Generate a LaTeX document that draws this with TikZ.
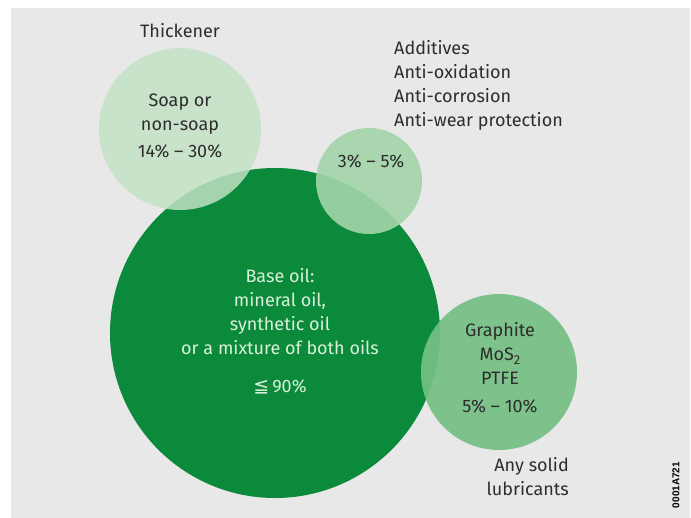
\documentclass[tikz,border=0pt]{standalone}
\usepackage{fontspec}
\setmainfont{Fira Sans}
\newfontfamily\symfont{DejaVu Sans}
\newfontfamily\codefont{Liberation Sans}
\definecolor{panelgray}{RGB}{232,232,232}
\definecolor{oilgreen}{RGB}{10,138,58}
\definecolor{thickgreen}{RGB}{194,227,196}
\definecolor{addgreen}{RGB}{163,213,169}
\definecolor{solidgreen}{RGB}{117,192,133}
\definecolor{darktext}{RGB}{45,45,45}
\definecolor{lighttext}{RGB}{218,240,218}
\newcommand{\lowtwo}{\raisebox{-3.5pt}{\fontsize{13}{13}\selectfont 2}}
\begin{document}
\begin{tikzpicture}[x=1pt,y=-1pt,
  blob/.style={circle,inner sep=0pt,minimum size=#1},
  label/.style={font=\fontsize{18}{24}\selectfont,text=darktext,inner sep=0pt,align=center},
  oiltext/.style={label,text=lighttext}]
  % panel
  \useasboundingbox (0,0) rectangle (691,518);
  \fill[white] (0,0) rectangle (691,518);
  \fill[panelgray] (11,8) rectangle (690,518);
  % circles
  \node[blob=330pt,fill=oilgreen] (oil) at (275,333) {};
  \node[blob=162pt,fill=thickgreen,fill opacity=0.84] (thick) at (180,129) {};
  \node[blob=106pt,fill=addgreen,fill opacity=0.9] (addit) at (369,181) {};
  \node[blob=156pt,fill=solidgreen,fill opacity=0.93] (solid) at (499,372) {};
  % labels (multi-line nodes are anchored at the baseline of their last line)
  \node[label,anchor=base] (thicklbl) at (180,38) {Thickener};
  \node[label,anchor=base] (soap) at (180,131) {Soap or\\non-soap};
  \node[label,anchor=base] (soappct) at (180,158) {14\% -- 30\%};
  \node[label,anchor=base west,align=left] (addlbl) at (394,127) {Additives\\Anti-oxidation\\Anti-corrosion\\Anti-wear protection};
  \node[label,anchor=base] (addpct) at (371,168) {3\% -- 5\%};
  \node[oiltext,anchor=base] (oillbl) at (280,355) {Base oil:\\mineral oil,\\synthetic oil\\or a mixture of both oils};
  \node[oiltext,anchor=base] (oilpct) at (280,393) {{\symfont\fontsize{19}{19}\selectfont ≦}\,90\%};
  \node[label,anchor=base] (solidlbl) at (500,385) {Graphite\\MoS\lowtwo\\PTFE};
  \node[label,anchor=base] (solidpct) at (500,413) {5\% -- 10\%};
  \node[label,anchor=base east,align=right] (anylbl) at (569,495) {Any solid\\lubricants};
  \node[font=\codefont\bfseries\fontsize{10}{10}\selectfont,rotate=90,inner sep=0pt] (code) at (676,485) {0001A721};
\end{tikzpicture}
\end{document}
